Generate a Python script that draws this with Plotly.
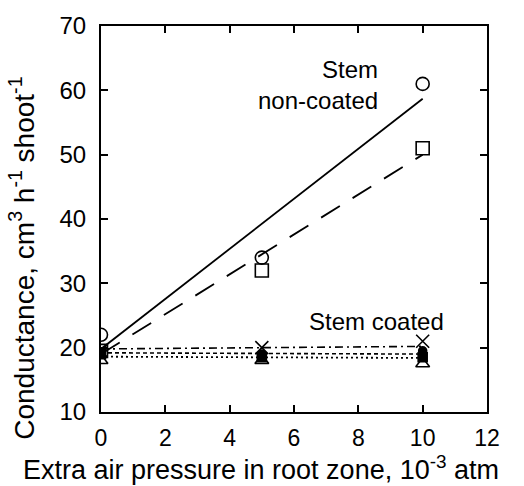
import plotly.graph_objects as go

x = [0, 5, 10]
# Stem non-coated
nc_circle = [22, 34, 61]
nc_square = [19.5, 32, 51]
# Stem coated
c_x = [19.5, 20, 21]
c_dot = [19, 19, 19.5]
c_sq = [19, 18.5, 18.5]
c_tri = [18, 18, 17.5]

fit_x = [0, 10]
fit_nc_solid = [19.8, 58.7]
fit_nc_dash = [19.0, 50.0]
fit_c_dashdot = [19.8, 20.2]
fit_c_dash = [19.2, 19.0]
fit_c_dot = [18.6, 18.4]

FONT = "Liberation Sans, Arial, sans-serif"
fig = go.Figure()

def line(yv, dash, w=1.6):
    fig.add_trace(go.Scatter(x=fit_x, y=yv, mode="lines",
                             line=dict(color="black", width=w, dash=dash),
                             showlegend=False, hoverinfo="skip"))

line(fit_nc_solid, "solid", 1.8)
line(fit_nc_dash, "22px,15px", 1.8)
line(fit_c_dashdot, "8px,4px,2px,4px", 1.6)
line(fit_c_dash, "4px,3px", 1.6)
line(fit_c_dot, "2px,3px", 1.8)

def pts(yv, symbol, size):
    fig.add_trace(go.Scatter(x=x, y=yv, mode="markers",
                             marker=dict(symbol=symbol, size=size, color="black",
                                         line=dict(color="black", width=1.6)),
                             showlegend=False))

pts(c_tri, "triangle-up-open", 12)
pts(c_sq, "square", 9)
pts(c_dot, "circle", 8)
pts(c_x, "x-thin-open", 13)
pts(nc_circle, "circle-open", 13)
pts(nc_square, "square-open", 13)

fig.add_annotation(x=8.67, y=60.8, text="Stem<br>non-coated", showarrow=False,
                   xanchor="right", yanchor="middle", align="right",
                   font=dict(family=FONT, size=24, color="black"))
fig.add_annotation(x=8.55, y=24.0, text="Stem coated", showarrow=False,
                   xanchor="center", yanchor="middle",
                   font=dict(family=FONT, size=24, color="black"))

# axis titles (placed as annotations to match the reference offsets)
fig.add_annotation(xref="paper", yref="paper", x=0.4145, y=0, yshift=-56,
                   xanchor="center", yanchor="middle", showarrow=False,
                   text="Extra air pressure in root zone, 10<sup>-3</sup> atm",
                   font=dict(family=FONT, size=27, color="black"))
fig.add_annotation(xref="paper", yref="paper", x=0, xshift=-79, y=0.397,
                   xanchor="center", yanchor="middle", showarrow=False, textangle=-90,
                   text="Conductance, cm<sup>3</sup> h<sup>-1</sup> shoot<sup>-1</sup>",
                   font=dict(family=FONT, size=28, color="black"))

axis_common = dict(showline=True, linecolor="black", linewidth=2, mirror="allticks",
                   ticks="inside", ticklen=7, tickwidth=1.5, tickcolor="black",
                   showgrid=False, zeroline=False)

fig.update_xaxes(range=[0, 12], tickvals=[0, 2, 4, 6, 8, 10, 12],
                 tickfont=dict(family=FONT, size=23, color="black"),
                 ticklabelstandoff=4, **axis_common)
fig.update_yaxes(range=[10, 70], tickvals=[10, 20, 30, 40, 50, 60, 70],
                 tickfont=dict(family=FONT, size=24, color="black"),
                 ticklabelstandoff=8, **axis_common)

fig.update_layout(width=524, height=486, margin=dict(l=101, r=37, t=22, b=74),
                  plot_bgcolor="white", paper_bgcolor="white",
                  font=dict(family=FONT, color="black"))

fig.write_html("out.html")
